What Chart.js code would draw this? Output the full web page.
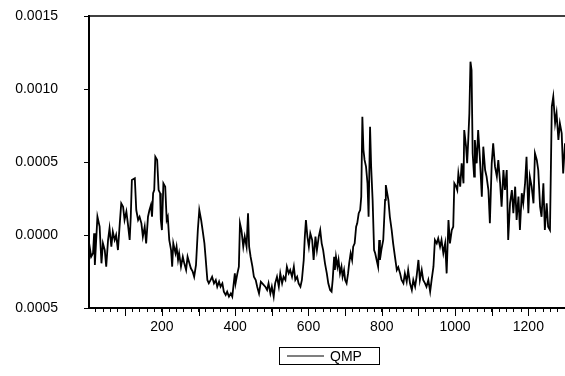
<!DOCTYPE html>
<html><head><meta charset="utf-8">
<script src="https://cdn.jsdelivr.net/npm/chart.js@4/dist/chart.umd.min.js"></script>
<style>html,body{margin:0;padding:0;background:#fff;} canvas{display:block;}</style>
</head><body>
<canvas id="c" width="565" height="376"></canvas>
<script>
const seriesName = 'QMP';
// observation index
const obs = [
1,4,7,12,15,17,24,30,35,39,44,48,53,57,62,66,71,75,80,85,89,94,98,103,107,112,115,118,126,130,135,139,144,148,153,157,162,
166,170,173,176,179,182,187,191,195,197,200,204,209,213,216,220,225,228,231,237,240,244,247,252,257,261,266,270,275,279,284,288,293,298,302,307,311,316,319,324,328,
333,337,342,347,351,356,360,365,369,374,378,383,388,392,395,399,401,406,410,413,417,422,426,431,435,438,442,447,451,456,460,465,470,474,
482,487,491,496,500,505,509,514,519,523,528,532,537,541,546,550,555,560,564,569,573,578,582,587,590,593,597,601,605,610,614,619,623,628,632,
636,640,645,650,654,659,663,666,670,672,675,679,682,686,690,693,697,700,704,708,711,715,719,722,726,730,733,737,741,744,747,750,753,757,761,764,768,771,775,779,782,786,790,793,
795,799,804,809,811,818,822,827,831,836,841,845,850,854,859,863,868,872,877,882,886,891,895,900,904,909,913,918,922,927,932,936,941,945,950,954,959,963,968,973,977,982,
986,991,995,998,1003,1006,1009,1014,1018,1023,1025,1030,1033,1036,1039,1042,1045,1048,1052,1054,1059,1063,1068,1073,1077,1082,1086,1091,1095,1100,1104,1109,1114,1118,1123,1127,1132,1136,1141,1145,1150,1155,1159,1164,1168,1173,1177,1182,1186,1191,1195,1200,1204,1209,1214,1218,1223,1227,1232,1236,1241,1245,1250,1254,1259,1264,1268,1273,1277,1282,1286,1291,1295,1300
];
// QMP values in units of 1e-4
const qmpE4 = [
-1.70,-1.00,-1.49,-1.25,0.12,-2.05,1.25,0.57,-1.94,-0.57,-1.03,-2.17,-0.34,0.46,-0.80,0.23,-0.34,0.00,-1.03,0.80,2.17,1.94,1.03,1.60,0.80,-0.34,1.25,3.77,3.89,1.71,1.03,1.25,0.80,-0.11,0.57,-0.57,1.25,
1.71,2.05,1.25,2.86,3.08,5.36,5.14,3.08,2.86,1.03,0.34,3.54,3.31,1.03,1.25,-0.34,-1.03,-2.17,-0.57,-1.25,-0.80,-1.71,-1.25,-2.17,-1.49,-1.94,-2.40,-1.49,-1.94,-2.28,-2.51,-2.86,-2.05,0.34,1.71,1.03,0.34,-0.57,-1.49,-3.08,-3.31,
-3.08,-2.86,-3.31,-3.08,-3.54,-3.20,-3.54,-3.31,-3.88,-4.11,-3.88,-4.22,-4.00,-4.22,-3.54,-2.63,-3.31,-2.63,-2.17,0.80,0.34,-0.80,-0.11,-0.80,1.49,-0.80,-1.49,-2.17,-2.86,-3.08,-3.54,-4.00,-3.20,-3.31,
-3.54,-3.77,-3.31,-4.00,-3.54,-4.22,-3.31,-2.86,-3.54,-2.63,-3.31,-2.86,-3.08,-2.17,-2.63,-2.40,-2.86,-2.17,-3.08,-2.86,-3.31,-3.54,-3.08,-1.71,-0.11,1.03,-0.11,-0.80,0.11,-0.34,-1.71,-0.11,-1.03,-0.11,0.34,
-0.57,-1.03,-1.94,-2.63,-3.31,-3.77,-3.88,-3.08,-1.49,-2.40,-1.49,-2.17,-1.71,-2.63,-2.17,-2.86,-2.40,-3.08,-3.31,-2.63,-1.94,-1.25,-1.71,-0.80,-0.57,0.57,0.80,1.49,1.71,2.63,8.10,5.82,5.14,4.68,3.54,1.25,7.42,4.68,2.40,-1.03,-1.25,-1.71,-2.17,-0.34,
-1.71,-1.00,-0.34,2.40,3.42,2.40,1.25,0.34,-0.57,-1.49,-2.40,-2.20,-2.63,-3.08,-3.31,-2.63,-3.20,-2.40,-3.31,-3.77,-3.08,-3.54,-2.86,-1.71,-3.08,-2.40,-3.08,-3.31,-3.54,-3.08,-3.88,-3.08,-2.17,-0.34,-0.57,-0.23,-0.80,-0.34,-1.25,-0.57,-2.63,1.03,
-0.57,0.34,0.57,3.54,3.31,3.08,4.22,3.31,4.91,3.54,7.19,6.05,4.91,6.51,8.34,11.87,11.30,5.60,4.00,6.51,4.91,7.19,5.14,2.63,6.05,4.45,4.00,3.08,0.80,4.91,6.28,4.68,4.00,5.14,3.54,1.94,4.45,3.08,4.45,-0.34,2.17,3.08,1.49,3.31,1.03,2.63,0.34,2.86,2.17,3.54,5.36,1.49,4.00,3.31,2.17,5.60,5.14,4.45,1.94,1.25,3.54,0.34,2.17,0.57,0.34,8.79,9.47,7.65,8.34,6.51,7.65,6.96,4.22,6.28
];
const valueUnit = 1e-4;
const yTickValues = [-0.0005, 0.0000, 0.0005, 0.0010, 0.0015];
const yTickLabels = ['0.0005', '0.0000', '0.0005', '0.0010', '0.0015'];
const xLabelValues = [200, 400, 600, 800, 1000, 1200];
const xMin = 1, xMax = 1300, xMinorStep = 20, xMajorStep = 100;

const FONT = '"Liberation Sans", Arial, sans-serif';
const TARGET_TOP = 16;
const points = obs.map((o, i) => ({x: o, y: qmpE4[i] * valueUnit}));

const decor = {
  id: 'decor',
  afterDraw(chart) {
    const {ctx, chartArea: a, scales: {x}} = chart;
    ctx.save();
    ctx.strokeStyle = '#000';
    ctx.lineWidth = 1.5;
    ctx.beginPath(); ctx.moveTo(a.left, a.top); ctx.lineTo(a.right, a.top); ctx.stroke();
    ctx.lineWidth = 1;
    for (let v = xMajorStep; v < xMax; v += xMajorStep) {
      const px = Math.round(x.getPixelForValue(v)) + 0.5;
      ctx.beginPath(); ctx.moveTo(px, a.bottom); ctx.lineTo(px, a.bottom + 8); ctx.stroke();
    }
    // legend
    const bx = 279.5, by = 347.5, bw = 100, bh = 17;
    ctx.strokeRect(bx, by, bw, bh);
    ctx.lineWidth = 1.2;
    ctx.beginPath(); ctx.moveTo(287, by + bh / 2); ctx.lineTo(324, by + bh / 2); ctx.stroke();
    ctx.fillStyle = '#000';
    ctx.font = '14px ' + FONT;
    ctx.textBaseline = 'middle';
    ctx.textAlign = 'left';
    ctx.fillText(chart.data.datasets[0].label, 330, by + bh / 2 + 1);
    ctx.restore();
  }
};

const chart = new Chart(document.getElementById('c'), {
  type: 'line',
  data: { datasets: [{ label: seriesName, data: points, borderColor: '#000', borderWidth: 1.8, pointRadius: 0, tension: 0, fill: false }] },
  options: {
    responsive: false, animation: false, devicePixelRatio: 1,
    layout: { padding: { top: TARGET_TOP, left: 0, right: 0, bottom: 0 } },
    plugins: { legend: { display: false }, tooltip: { enabled: false } },
    scales: {
      x: {
        type: 'linear', min: xMin, max: xMax,
        afterBuildTicks(s) { const t = []; for (let v = xMinorStep; v < xMax; v += xMinorStep) t.push({value: v}); s.ticks = t; },
        afterFit(s) { s.height = 68; s.paddingLeft = 0; s.paddingRight = 0; },
        ticks: { autoSkip: false, maxRotation: 0, padding: 7, color: '#000', font: { size: 14, family: FONT },
          callback: (v) => xLabelValues.includes(v) ? String(v) : '' },
        grid: { drawOnChartArea: false, drawTicks: true, tickLength: 4, color: '#000', lineWidth: 1 },
        border: { display: true, color: '#000', width: 2 }
      },
      y: {
        min: yTickValues[0], max: yTickValues[yTickValues.length - 1],
        afterBuildTicks(s) { s.ticks = yTickValues.map(v => ({value: v})); },
        afterFit(s) { s.width = 89; s.paddingTop = 0; s.paddingBottom = 0; },
        ticks: { padding: 26, color: '#000', font: { size: 14, family: FONT },
          callback: (v, i) => yTickLabels[i] },
        grid: { drawOnChartArea: false, drawTicks: true, tickLength: 5, color: '#000', lineWidth: 1 },
        border: { display: true, color: '#000', width: 2 }
      }
    }
  },
  plugins: [decor]
});
const diff = chart.chartArea.top - TARGET_TOP;
if (Math.abs(diff) > 0.5) {
  chart.options.layout.padding.top = TARGET_TOP - diff;
  chart.update();
}
</script>
</body></html>
